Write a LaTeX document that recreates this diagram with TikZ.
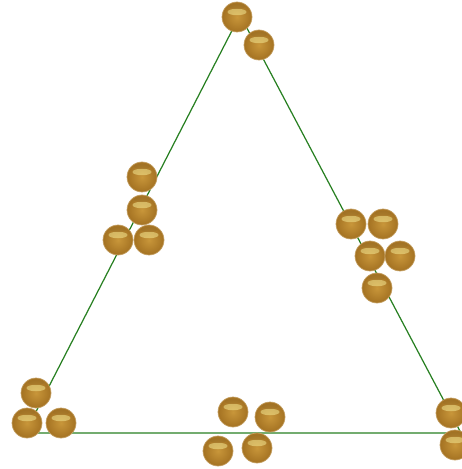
\documentclass[tikz,border=0pt]{standalone}
\usetikzlibrary{positioning}

\definecolor{edgegreen}{RGB}{40,128,34}
\definecolor{ballinner}{RGB}{200,150,58}
\definecolor{ballouter}{RGB}{164,114,34}
\definecolor{ballrim}{RGB}{196,160,100}

\begin{document}
\begin{tikzpicture}[
      x=0.02cm, y=-0.02cm,
      ball/.style={circle, minimum size=0.6cm, inner sep=0pt, draw=ballrim, line width=0.4pt,
        inner color=ballinner, outer color=ballouter,
        path picture={
          \fill[yellow!35!white, opacity=0.45] ([yshift=0.1cm]path picture bounding box.center) ellipse (0.19cm and 0.065cm);
          \fill[ballinner!70!black, opacity=0.25] ([yshift=0.21cm]path picture bounding box.center) ellipse (0.16cm and 0.05cm);
        }},
      edge/.style={draw=edgegreen, line width=0.7pt}
    ]
    \useasboundingbox (0,0) rectangle (462,469);

    \coordinate (apex) at (240,15);
    \coordinate (lcorner) at (25,433);
    \coordinate (rcorner) at (461,433);
    \draw[edge] (apex) -- (lcorner) -- (rcorner) -- cycle;

    % top
    \node[ball] (top1) at (237,17) {};
    \node[ball] (top2) at (259,45) {};

    % left side
    \node[ball] (left1) at (142,177) {};
    \node[ball] (left2) at (142,210) {};
    \node[ball] (left3) at (118,240) {};
    \node[ball] (left4) at (149,240) {};

    % right side
    \node[ball] (right1) at (351,224) {};
    \node[ball] (right2) at (383,224) {};
    \node[ball] (right3) at (370,256) {};
    \node[ball] (right4) at (400,256) {};
    \node[ball] (right5) at (377,288) {};

    % corners and bottom
    \node[ball] (bl1) at (36,393) {};
    \node[ball] (bl2) at (27,423) {};
    \node[ball] (bl3) at (61,423) {};

    \node[ball] (bm1) at (233,412) {};
    \node[ball] (bm2) at (270,417) {};
    \node[ball] (bm3) at (218,451) {};
    \node[ball] (bm4) at (257,448) {};

    \node[ball] (br1) at (451,413) {};
    \node[ball] (br2) at (455,445) {};
  \end{tikzpicture}
\end{document}
